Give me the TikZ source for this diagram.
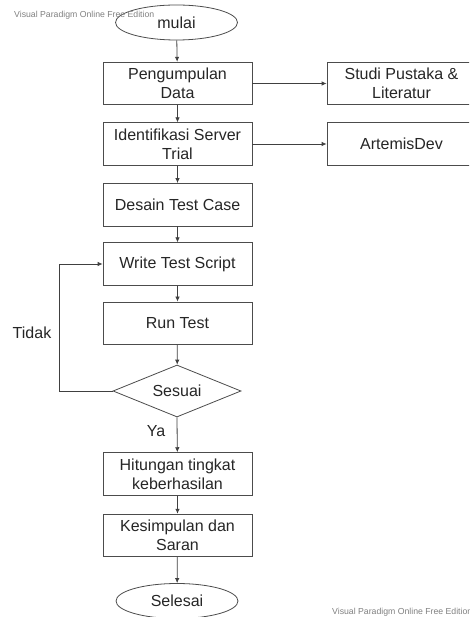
\documentclass[tikz,border=0pt]{standalone}
\usepackage{fontspec}
\setmainfont{Liberation Sans}
\usetikzlibrary{shapes.geometric,arrows.meta}
\begin{document}
\begin{tikzpicture}[x=1pt,y=-1pt,
  every node/.style={font=\fontsize{16}{19}\selectfont, text=black!85, align=center},
  box/.style={draw=black!70, line width=0.8pt, rectangle, minimum width=149pt, minimum height=42.5pt, inner sep=0pt},
  term/.style={draw=black!70, line width=0.8pt, ellipse, minimum width=122pt, minimum height=35pt, inner sep=0pt},
  decide/.style={draw=black!70, line width=0.8pt, diamond, aspect=2.46, minimum width=128pt, minimum height=52pt, inner sep=0pt},
  flow/.style={draw=black!75, line width=0.8pt, -{Latex[length=5pt,width=4.5pt]}},
  lbl/.style={font=\fontsize{16}{19}\selectfont, text=black!85},
  wm/.style={font=\fontsize{8.7}{10}\selectfont, text=black!50, inner sep=0pt}
]
\useasboundingbox (0,0) rectangle (469,617);
\clip (0,0) rectangle (469,617);
\fill[white] (0,0) rectangle (469,617);

\node[term] (mulai) at (176.5,22.5) {mulai};
\node[wm, anchor=west] (wm1) at (14,15) {Visual Paradigm Online Free Edition};

\node[box] (peng) at (177.5,83.5) {Pengumpulan\\Data};
\node[box] (studi) at (401.5,83.5) {Studi Pustaka \&\\Literatur};
\node[box] (ident) at (177.5,144) {Identifikasi Server\\Trial};
\node[box] (artemis) at (401.5,144) {ArtemisDev};
\node[box] (desain) at (177.5,204.7) {Desain Test Case};
\node[box] (write) at (177.5,264) {Write Test Script};
\node[box] (run) at (177.5,323.2) {Run Test};
\node[decide] (sesuai) at (177,391) {Sesuai};
\node[box] (hit) at (177.5,473.9) {Hitungan tingkat\\keberhasilan};
\node[box] (kes) at (177.5,535.4) {Kesimpulan dan\\Saran};
\node[term] (selesai) at (177,601) {Selesai};

\node[lbl] (tidak) at (32,333) {Tidak};
\node[lbl] (ya) at (156,431.5) {Ya};
\node[wm, anchor=west] (wm2) at (332,612) {Visual Paradigm Online Free Edition};

\coordinate (loopA) at (59.7,391);
\coordinate (loopB) at (59.7,264);

\draw[flow] (mulai) -- (peng);
\draw[flow] (peng) -- (studi);
\draw[flow] (peng) -- (ident);
\draw[flow] (ident) -- (artemis);
\draw[flow] (ident) -- (desain);
\draw[flow] (desain) -- (write);
\draw[flow] (write) -- (run);
\draw[flow] (run) -- (sesuai);
\draw[flow] (sesuai.south) -- (hit);
\draw[flow] (hit) -- (kes);
\draw[flow] (kes) -- (selesai);
\draw[flow] (sesuai.west) -- (loopA) -- (loopB) -- (write.west);
\end{tikzpicture}
\end{document}
